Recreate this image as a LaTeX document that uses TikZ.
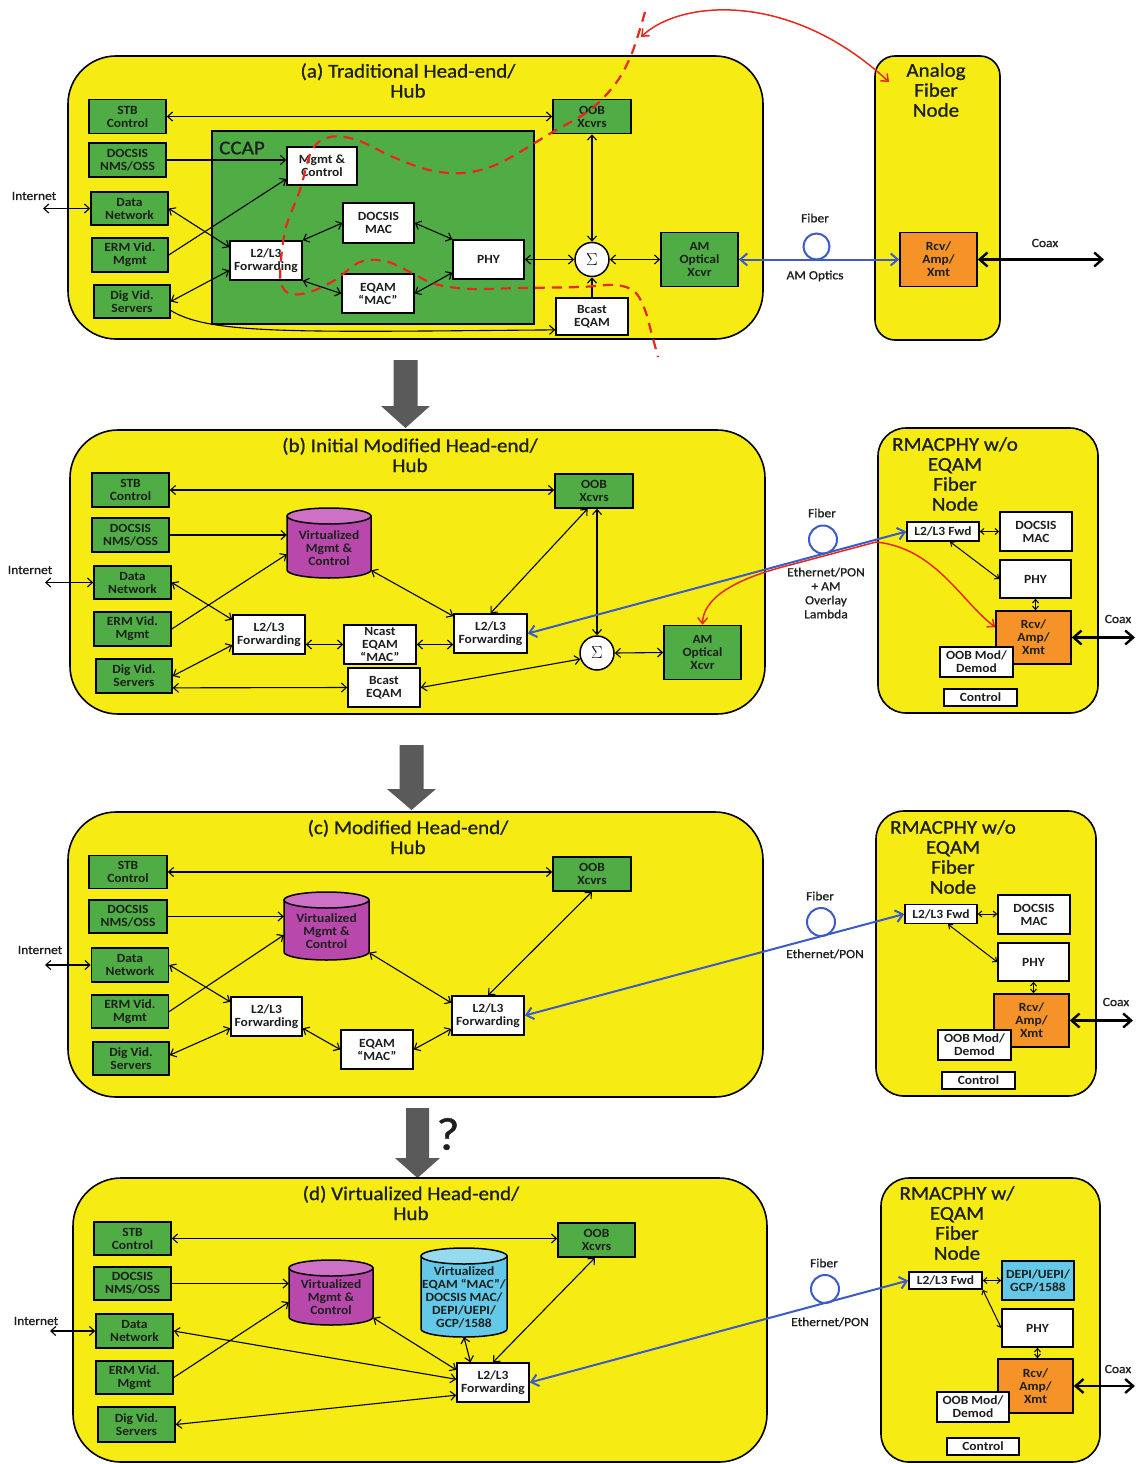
\documentclass[tikz,border=0pt]{standalone}
\usepackage{fontspec}
\setmainfont{Carlito}[FakeStretch=1.08]
\newfontfamily\medfam{Carlito}[FakeStretch=1.08, FakeBold=0.9]
\usetikzlibrary{arrows.meta,calc}

\definecolor{pyellow}{RGB}{246,236,20}
\definecolor{pgreen}{RGB}{80,172,68}
\definecolor{porange}{RGB}{245,146,40}
\definecolor{pmag}{RGB}{184,72,172}
\definecolor{pmagtop}{RGB}{206,112,198}
\definecolor{pcyan}{RGB}{100,200,232}
\definecolor{pcyantop}{RGB}{150,218,240}
\definecolor{pblue}{RGB}{60,90,200}
\definecolor{pred}{RGB}{232,40,30}
\definecolor{pgray}{RGB}{90,90,90}
\definecolor{ptext}{RGB}{28,32,28}

\newcommand\boxfont{\fontsize{12.5}{13}\selectfont\bfseries}
\newcommand\ttlfont{\medfam\fontsize{19.5}{20}\selectfont}
\newcommand\lblfont{\medfam\fontsize{12.5}{14}\selectfont}

\tikzset{
 panel/.style={draw=black, line width=1.6pt, fill=pyellow, rounded corners=48pt},
 fnpanel/.style={draw=black, line width=1.6pt, fill=pyellow, rounded corners=28pt},
 bx/.style 2 args={draw=black, line width=1.5pt, align=center, font=\boxfont, text=ptext, inner sep=0pt, minimum width=#1pt, minimum height=#2pt},
 gbox/.style 2 args={bx={#1}{#2}, fill=pgreen},
 wbox/.style 2 args={bx={#1}{#2}, fill=white},
 obox/.style 2 args={bx={#1}{#2}, fill=porange},
 cbox/.style 2 args={bx={#1}{#2}, fill=pcyan},
 cyltext/.style={align=center, font=\boxfont, text=ptext, inner sep=0pt},
 sig/.style={circle, draw=black, line width=1.5pt, fill=white, minimum size=34pt, inner sep=0pt, font=\fontsize{18}{18}\selectfont},
 ttl/.style={font=\ttlfont, align=center, text=ptext, inner sep=0pt},
 lbl/.style={font=\lblfont, align=center, text=ptext, inner sep=0pt},
 lk/.style={line width=1.1pt, draw=black},
 dbl/.style={lk, {Straight Barb[length=5pt,width=9pt]}-{Straight Barb[length=5pt,width=9pt]}},
 one/.style={lk, -{Straight Barb[length=5pt,width=9pt]}},
 sm/.style={line width=1pt, {Straight Barb[length=3.5pt,width=6pt]}-{Straight Barb[length=3.5pt,width=6pt]}},
 fib/.style={line width=2pt, draw=pblue, {Straight Barb[length=7pt,width=12pt]}-{Straight Barb[length=7pt,width=12pt]}},
 loopc/.style={line width=2pt, draw=pblue},
 coax/.style={line width=2.4pt, {Straight Barb[length=8pt,width=14pt]}-{Straight Barb[length=8pt,width=14pt]}},
 redarr/.style={line width=1.5pt, draw=pred, {Straight Barb[length=6pt,width=10pt]}-{Straight Barb[length=6pt,width=10pt]}},
 reddash/.style={line width=2.2pt, draw=pred, dash pattern=on 10pt off 7pt},
}

% #1 name, #2 cx, #3 cy, #4 w, #5 h, #6 body, #7 top, #8 text
\newcommand\mycyl[8]{%
 \pgfmathsetmacro\cxl{#2-#4/2}\pgfmathsetmacro\cxr{#2+#4/2}%
 \pgfmathsetmacro\cyt{#3-#5/2+8}\pgfmathsetmacro\cyb{#3+#5/2-8}%
 \pgfmathsetmacro\crx{#4/2}\pgfmathsetmacro\cty{#3+5}%
 \filldraw[fill=#6, line width=1.5pt] (\cxl,\cyt) -- (\cxl,\cyb) arc[start angle=180, end angle=360, x radius=\crx pt, y radius=8pt] -- (\cxr,\cyt) -- cycle;
 \filldraw[fill=#7, line width=1.5pt] (#2,\cyt) ellipse [x radius=\crx pt, y radius=8pt];
 \node[minimum width=#4pt, minimum height=#5pt, inner sep=0pt] (#1) at (#2,#3) {};
 \node[cyltext] (#1t) at (#2,\cty) {#8};
}

\begin{document}
\begin{tikzpicture}[x=1pt,y=-1pt]
\useasboundingbox (0,0) rectangle (1138,1464);
\fill[white] (0,0) rectangle (1138,1464);

% ================= panel (a)
\draw[panel] (68,56) rectangle (763,339);
\draw[fnpanel, rounded corners=20pt] (875,56) rectangle (1000,340);
\node[ttl] (aT) at (408,80.5) {(a) Traditional Head-end/\\Hub};
\node[ttl] (aFN) at (936,90) {Analog\\Fiber\\Node};
\draw[line width=1.5pt, fill=pgreen] (212,131) rectangle (534,324);
\node[ttl] (aCC) at (242,148) {CCAP};

\node[gbox={77}{34}] (aSTB) at (127.5,116.5) {STB\\Control};
\node[gbox={77}{34}] (aNMS) at (127.5,160) {DOCSIS\\NMS/OSS};
\node[gbox={77}{33}] (aData) at (129.5,208.5) {Data\\Network};
\node[gbox={76}{34}] (aERM) at (130,255) {ERM Vid.\\Mgmt};
\node[gbox={76}{33}] (aDig) at (132,301.5) {Dig Vid.\\Servers};
\node[wbox={70}{38}] (aMg) at (322,166) {Mgmt \&\\Control};
\node[wbox={71}{40}] (aMAC) at (378.5,223) {DOCSIS\\MAC};
\node[wbox={72}{39}] (aL2) at (266,260.5) {L2/L3\\Forwarding};
\node[wbox={71}{39}] (aPHY) at (488.5,259.5) {PHY};
\node[wbox={72}{39}] (aEQ) at (378,293.5) {EQAM\\“MAC”};
\node[gbox={78}{34}] (aOOB) at (592,116.5) {OOB\\Xcvrs};
\node[sig] (aSig) at (592,259.5) {$\Sigma$};
\node[wbox={72}{37}] (aBc) at (592,316.5) {Bcast\\EQAM};
\node[gbox={77}{54}] (aAM) at (699.5,259.5) {AM\\Optical\\Xcvr};
\node[obox={77}{54}] (aRcv) at (938.5,259.5) {Rcv/\\Amp/\\Xmt};
\node[lbl] (aInt) at (34,196) {Internet};
\coordinate (aIn) at (43,208.5);
\node[lbl] (aFib) at (815,218) {Fiber};
\node[lbl] (aAMO) at (815,276) {AM Optics};
\node[lbl] (aCx) at (1045,243) {Coax};
\coordinate (aCxE) at (1104,259.5);

\draw[dbl] (aIn) -- (aData.west);
\draw[dbl] (aSTB.east) -- (aOOB.west);
\draw[one] (aNMS.east) -- (aNMS.east -| aMg.west);
\draw[one] (aERM.east) -- (aMg.200);
\draw[dbl] (aData.east) -- (aL2.160);
\draw[dbl] (aDig.east) -- (aL2.195);
\draw[dbl] (aL2.north east) -- (aMAC.west);
\draw[dbl] (aL2.south east) -- (aEQ.west);
\draw[dbl] (aMAC.east) -- (aPHY.north west);
\draw[dbl] (aEQ.east) -- (aPHY.200);
\draw[dbl] (aPHY.east) -- (aSig.west);
\draw[dbl] (aOOB.south) -- (aSig.north);
\draw[dbl] (aSig.east) -- (aAM.west);
\draw[one] (aBc.north) -- (aSig.south);
\draw[one] (aDig.347) .. controls (210,335) and (300,332) .. (aBc.200);
\draw[fib] (aAM.east) -- (aRcv.west);
\draw[loopc] (816.5,246.5) circle (13pt);
\draw[coax] (aRcv.east) -- (aCxE);

\draw[reddash] plot[smooth, tension=0.55] coordinates {(645,12) (632,53) (616,83) (590,110) (551,133) (500,163) (464,173) (429,170) (393,157) (357,140) (330,137) (312,150) (300,190) (286,227) (281,260) (281,283) (290,294) (310,292) (335,280) (360,262) (385,261) (410,272) (435,284) (470,289) (520,288) (580,287) (616,285) (635,292) (645,310) (652,335) (658,357)};
\coordinate (aRs) at (641,37);
\coordinate (aRe) at (889,82);
\draw[redarr] (aRs) .. controls (680,0) and (790,-10) .. (aRe);

% big arrow 1
\fill[pgray] (393.5,360) -- (417.5,360) -- (417.5,406) -- (430,406) -- (405.5,428) -- (381,406) -- (393.5,406) -- cycle;

% ================= panel (b)
\draw[panel] (70,430) rectangle (765,714);
\draw[fnpanel] (878,428) rectangle (1098,713);
\node[ttl] (bT) at (410,455) {(b) Initial Modified Head-end/\\Hub};
\node[ttl] (bFN) at (955,474) {RMACPHY w/o\\EQAM\\Fiber\\Node};

\node[gbox={77}{34}] (bSTB) at (130.5,490) {STB\\Control};
\node[gbox={77}{34}] (bNMS) at (130.5,535) {DOCSIS\\NMS/OSS};
\node[gbox={77}{33}] (bData) at (132.5,582.5) {Data\\Network};
\node[gbox={77}{34}] (bERM) at (132.5,629) {ERM Vid.\\Mgmt};
\node[gbox={76}{34}] (bDig) at (134,676) {Dig Vid.\\Servers};
\mycyl{bVM}{329}{543}{84}{70}{pmag}{pmagtop}{Virtualized\\Mgmt \&\\Control}
\node[wbox={72}{39}] (bL2a) at (269,634.5) {L2/L3\\Forwarding};
\node[wbox={72}{39}] (bNc) at (380,644.5) {Ncast\\EQAM\\“MAC”};
\node[wbox={73}{39}] (bL2b) at (490.5,633.5) {L2/L3\\Forwarding};
\node[wbox={72}{39}] (bBc) at (384,687.5) {Bcast\\EQAM};
\node[gbox={78}{34}] (bOOB) at (594,491) {OOB\\Xcvrs};
\node[sig] (bSig) at (597,653) {$\Sigma$};
\node[gbox={77}{54}] (bAM) at (702.5,652.5) {AM\\Optical\\Xcvr};
\node[wbox={72}{19}] (bFwd) at (943,531.5) {L2/L3 Fwd};
\node[wbox={72}{39}] (bMAC) at (1036,531.5) {DOCSIS\\MAC};
\node[wbox={71}{38}] (bPHY) at (1035.5,579) {PHY};
\node[obox={75}{53}] (bRcv) at (1033.5,637.5) {Rcv/\\Amp/\\Xmt};
\node[wbox={73}{30}] (bOOBm) at (976.5,662) {OOB Mod/\\Demod};
\node[wbox={73}{17}] (bCtl) at (980.5,697.5) {Control};
\node[lbl] (bInt) at (30,570) {Internet};
\coordinate (bIn) at (45,582.5);
\node[lbl] (bFib) at (822,513) {Fiber};
\node[lbl] (bEth) at (826,593) {Ethernet/PON\\+ AM\\Overlay\\Lambda};
\node[lbl] (bCx) at (1118,619) {Coax};
\coordinate (bCxE) at (1135,637.5);

\draw[dbl] (bIn) -- (bData.west);
\draw[dbl] (bSTB.east) -- (bSTB.east -| bOOB.west);
\draw[one] (bNMS.east) -- (bNMS.east -| bVM.west);
\draw[one] (bERM.east) -- (bVM.195);
\draw[dbl] (bData.east) -- (bL2a.158);
\draw[dbl] (bDig.east) -- (bL2a.196);
\draw[dbl] (bDig.343) -- (bBc.west);
\draw[dbl] (bNc.west -| bL2a.east) -- (bNc.west);
\draw[dbl] (bNc.east) -- (bNc.east -| bL2b.west);
\draw[dbl] (bVM.327) -- (bL2b.155);
\draw[dbl] (bOOB.250) -- (bL2b.north);
\draw[dbl] (bOOB.south -| bSig.north) -- (bSig.north);
\draw[dbl] (bBc.east) -- (bSig.200);
\draw[dbl] (bSig.east) -- (bAM.west);
\draw[fib] (bL2b.east) -- (bFwd.west);
\draw[loopc] (823,539.5) circle (14pt);
\draw[redarr] (bAM.north) .. controls (703,600) and (730,580) .. (790,565) -- (876,542) .. controls (935,548) and (960,600) .. (bRcv.165);
\draw[sm] (bFwd.east) -- (bFwd.east -| bMAC.west);
\draw[sm] ($(bFwd.south)+(7,0)$) -- (bPHY.west);
\draw[sm] (bPHY.south) -- (bPHY.south |- bRcv.north);
\draw[coax] (bRcv.east) -- (bCxE);

% big arrow 2
\fill[pgray] (399.5,745) -- (423.5,745) -- (423.5,789) -- (436,789) -- (411.5,810) -- (387,789) -- (399.5,789) -- cycle;

% ================= panel (c)
\draw[panel] (68,812) rectangle (763,1097);
\draw[fnpanel] (876,811) rectangle (1096,1096);
\node[ttl] (cT) at (408,837) {(c) Modified Head-end/\\Hub};
\node[ttl] (cFN) at (953,857) {RMACPHY w/o\\EQAM\\Fiber\\Node};

\node[gbox={78}{33}] (cSTB) at (128,872) {STB\\Control};
\node[gbox={78}{33}] (cNMS) at (128,916.5) {DOCSIS\\NMS/OSS};
\node[gbox={77}{34}] (cData) at (130,965) {Data\\Network};
\node[gbox={77}{33}] (cERM) at (130,1011.5) {ERM Vid.\\Mgmt};
\node[gbox={76}{33}] (cDig) at (131,1058.5) {Dig Vid.\\Servers};
\mycyl{cVM}{326.5}{926}{85}{68}{pmag}{pmagtop}{Virtualized\\Mgmt \&\\Control}
\node[wbox={71}{39}] (cL2a) at (266.5,1016.5) {L2/L3\\Forwarding};
\node[wbox={72}{39}] (cEQ) at (377,1049.5) {EQAM\\“MAC”};
\node[wbox={72}{39}] (cL2b) at (488,1015.5) {L2/L3\\Forwarding};
\node[gbox={78}{34}] (cOOB) at (592,874) {OOB\\Xcvrs};
\node[wbox={72}{19}] (cFwd) at (941,914) {L2/L3 Fwd};
\node[wbox={72}{39}] (cMAC) at (1034,914.5) {DOCSIS\\MAC};
\node[wbox={71}{38}] (cPHY) at (1033.5,962) {PHY};
\node[obox={75}{53}] (cRcv) at (1031.5,1020.5) {Rcv/\\Amp/\\Xmt};
\node[wbox={73}{30}] (cOOBm) at (974.5,1045) {OOB Mod/\\Demod};
\node[wbox={73}{17}] (cCtl) at (978.5,1080.5) {Control};
\node[lbl] (cInt) at (40,950) {Internet};
\coordinate (cIn) at (45,965);
\node[lbl] (cFib) at (820,896) {Fiber};
\node[lbl] (cEth) at (825,954) {Ethernet/PON};
\node[lbl] (cCx) at (1116,1002) {Coax};
\coordinate (cCxE) at (1133,1020.5);

\draw[dbl] (cIn) -- (cData.west);
\draw[dbl] (cSTB.east) -- (cSTB.east -| cOOB.west);
\draw[one] (cNMS.east) -- (cNMS.east -| cVM.west);
\draw[one] (cERM.east) -- (cVM.192);
\draw[dbl] (cData.east) -- (cL2a.158);
\draw[dbl] (cDig.5) -- (cL2a.198);
\draw[dbl] (cL2a.-18) -- (cEQ.west);
\draw[dbl] (cEQ.east) -- (cL2b.200);
\draw[dbl] (cVM.328) -- (cL2b.161);
\draw[dbl] (cOOB.south) -- (cL2b.north);
\draw[fib] (cL2b.east) -- (cFwd.west);
\draw[loopc] (821,922) circle (14pt);
\draw[sm] (cFwd.east) -- (cFwd.east -| cMAC.west);
\draw[sm] ($(cFwd.south)+(7,0)$) -- (cPHY.west);
\draw[sm] (cPHY.south) -- (cPHY.south |- cRcv.north);
\draw[coax] (cRcv.east) -- (cCxE);

% big arrow 3 and question mark
\fill[pgray] (406,1108) -- (429,1108) -- (429,1158) -- (440,1158) -- (417.5,1178) -- (395,1158) -- (406,1158) -- cycle;
\node[font=\medfam\fontsize{46}{46}\selectfont, text=ptext, inner sep=0pt] (q) at (448,1134) {?};

% ================= panel (d)
\draw[panel] (73,1178) rectangle (767,1462);
\draw[fnpanel] (881,1178) rectangle (1100,1462);
\node[ttl] (dT) at (411,1203) {(d) Virtualized Head-end/\\Hub};
\node[ttl] (dFN) at (957,1223) {RMACPHY w/\\EQAM\\Fiber\\Node};

\node[gbox={77}{33}] (dSTB) at (132.5,1238.5) {STB\\Control};
\node[gbox={77}{33}] (dNMS) at (132.5,1283.5) {DOCSIS\\NMS/OSS};
\node[gbox={77}{34}] (dData) at (134.5,1331) {Data\\Network};
\node[gbox={77}{33}] (dERM) at (134.5,1377.5) {ERM Vid.\\Mgmt};
\node[gbox={77}{35}] (dDig) at (136.5,1424.5) {Dig Vid.\\Servers};
\mycyl{dVM}{331}{1292.5}{84}{65}{pmag}{pmagtop}{Virtualized\\Mgmt \&\\Control}
\mycyl{dCy}{464}{1292.5}{86}{89}{pcyan}{pcyantop}{Virtualized\\EQAM “MAC”/\\DOCSIS MAC/\\DEPI/UEPI/\\GCP/1588}
\node[wbox={72}{39}] (dL2) at (493,1382.5) {L2/L3\\Forwarding};
\node[gbox={77}{34}] (dOOB) at (596.5,1240) {OOB\\Xcvrs};
\node[wbox={73}{17}] (dFwd) at (945.5,1280.5) {L2/L3 Fwd};
\node[cbox={72}{39}] (dDEPI) at (1038,1280.5) {DEPI/UEPI/\\GCP/1588};
\node[wbox={71}{38}] (dPHY) at (1037.5,1328) {PHY};
\node[obox={75}{54}] (dRcv) at (1035.5,1386) {Rcv/\\Amp/\\Xmt};
\node[wbox={72}{30}] (dOOBm) at (973,1407) {OOB Mod/\\Demod};
\node[wbox={72}{17}] (dCtl) at (983,1446.5) {Control};
\node[lbl] (dInt) at (36,1321) {Internet};
\coordinate (dIn) at (50,1331);
\node[lbl] (dFib) at (824,1263) {Fiber};
\node[lbl] (dEth) at (830,1322) {Ethernet/PON};
\node[lbl] (dCx) at (1118,1369) {Coax};
\coordinate (dCxE) at (1135,1386);

\draw[dbl] (dIn) -- (dData.west);
\draw[dbl] (dSTB.east) -- (dSTB.east -| dOOB.west);
\draw[one] (dNMS.east) -- (dNMS.east -| dVM.west);
\draw[one] (dERM.east) -- (dVM.193);
\draw[dbl] (dData.east) -- (dL2.175);
\draw[dbl] (dDig.east) -- (dL2.199);
\draw[dbl] (dVM.329) -- (dL2.161);
\draw[dbl] (dCy.south) -- (dL2.138);
\draw[dbl] (dOOB.265) -- (dL2.north);
\draw[fib] (dL2.east) -- (dFwd.west);
\draw[loopc] (825,1289) circle (14pt);
\draw[sm] (dFwd.east) -- (dFwd.east -| dDEPI.west);
\draw[sm] (dFwd.south east) -- (dPHY.west);
\draw[sm] (dPHY.south) -- (dPHY.south |- dRcv.north);
\draw[coax] (dRcv.east) -- (dCxE);
\end{tikzpicture}
\end{document}
